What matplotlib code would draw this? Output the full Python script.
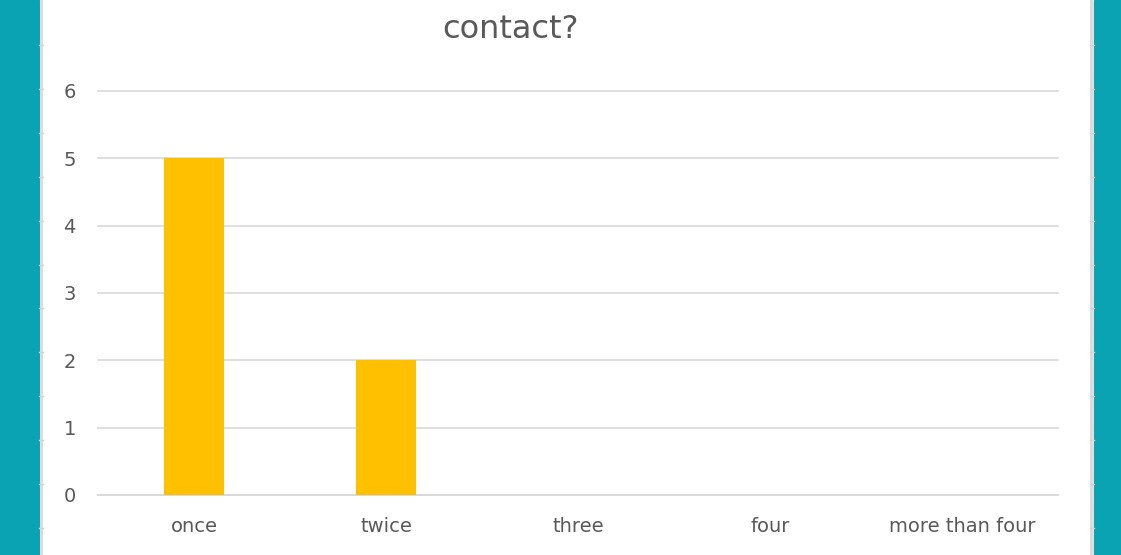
import matplotlib.pyplot as plt
from matplotlib.lines import Line2D
from matplotlib.patches import Rectangle

categories = ["once", "twice", "three", "four", "more than four"]
counts = [5, 2, 0, 0, 0]
y_ticks = [0, 1, 2, 3, 4, 5, 6]

W, H = 1121, 555
fig = plt.figure(figsize=(W / 100, H / 100), dpi=100)
fig.patch.set_facecolor("white")

# teal page margins on both sides
teal = "#0AA3B3"
fig.add_artist(Rectangle((0, 0), 39 / W, 1, transform=fig.transFigure, color=teal, zorder=0))
fig.add_artist(Rectangle((1094 / W, 0), 27 / W, 1, transform=fig.transFigure, color=teal, zorder=0))

# light frame edges with small notches
for x0 in (40.5, 1091):
    fig.add_artist(Line2D([x0 / W, x0 / W], [0, 1], transform=fig.transFigure,
                          color="#DCDCDC", lw=2.2, zorder=1))
    y = 45.0
    while y < H:
        fig.add_artist(Line2D([(x0 - 1.5) / W, (x0 + 3) / W], [1 - y / H, 1 - y / H],
                              transform=fig.transFigure, color="#D3D3D3", lw=1.0, zorder=1))
        y += 43.9

ax = fig.add_axes([98 / W, 60 / H, 960 / W, 404 / H])
ax.set_facecolor("white")
x = range(len(categories))
ax.bar(x, counts, width=0.31, color="#FFC000", zorder=3)

ax.set_xlim(-0.5, len(categories) - 0.5)
ax.set_ylim(0, 6)
ax.set_yticks(y_ticks)
ax.set_xticks(list(x))
ax.set_xticklabels(categories)
ax.yaxis.grid(True, color="#D9D9D9", lw=1.2, zorder=0)
for gl in ax.yaxis.get_gridlines():
    gl.set_clip_on(False)
ax.set_axisbelow(True)
for s in ["top", "right", "left"]:
    ax.spines[s].set_visible(False)
ax.spines["bottom"].set_color("#D9D9D9")
ax.spines["bottom"].set_linewidth(1.2)
ax.tick_params(axis="both", length=0, labelsize=14, labelcolor="#595959")
ax.tick_params(axis="y", pad=16)
ax.tick_params(axis="x", pad=16)

fig.text(510 / W, 1 - 29 / H, "contact?", ha="center", va="center",
         fontsize=23, color="#595959")

fig.savefig("out.png", dpi=100)
